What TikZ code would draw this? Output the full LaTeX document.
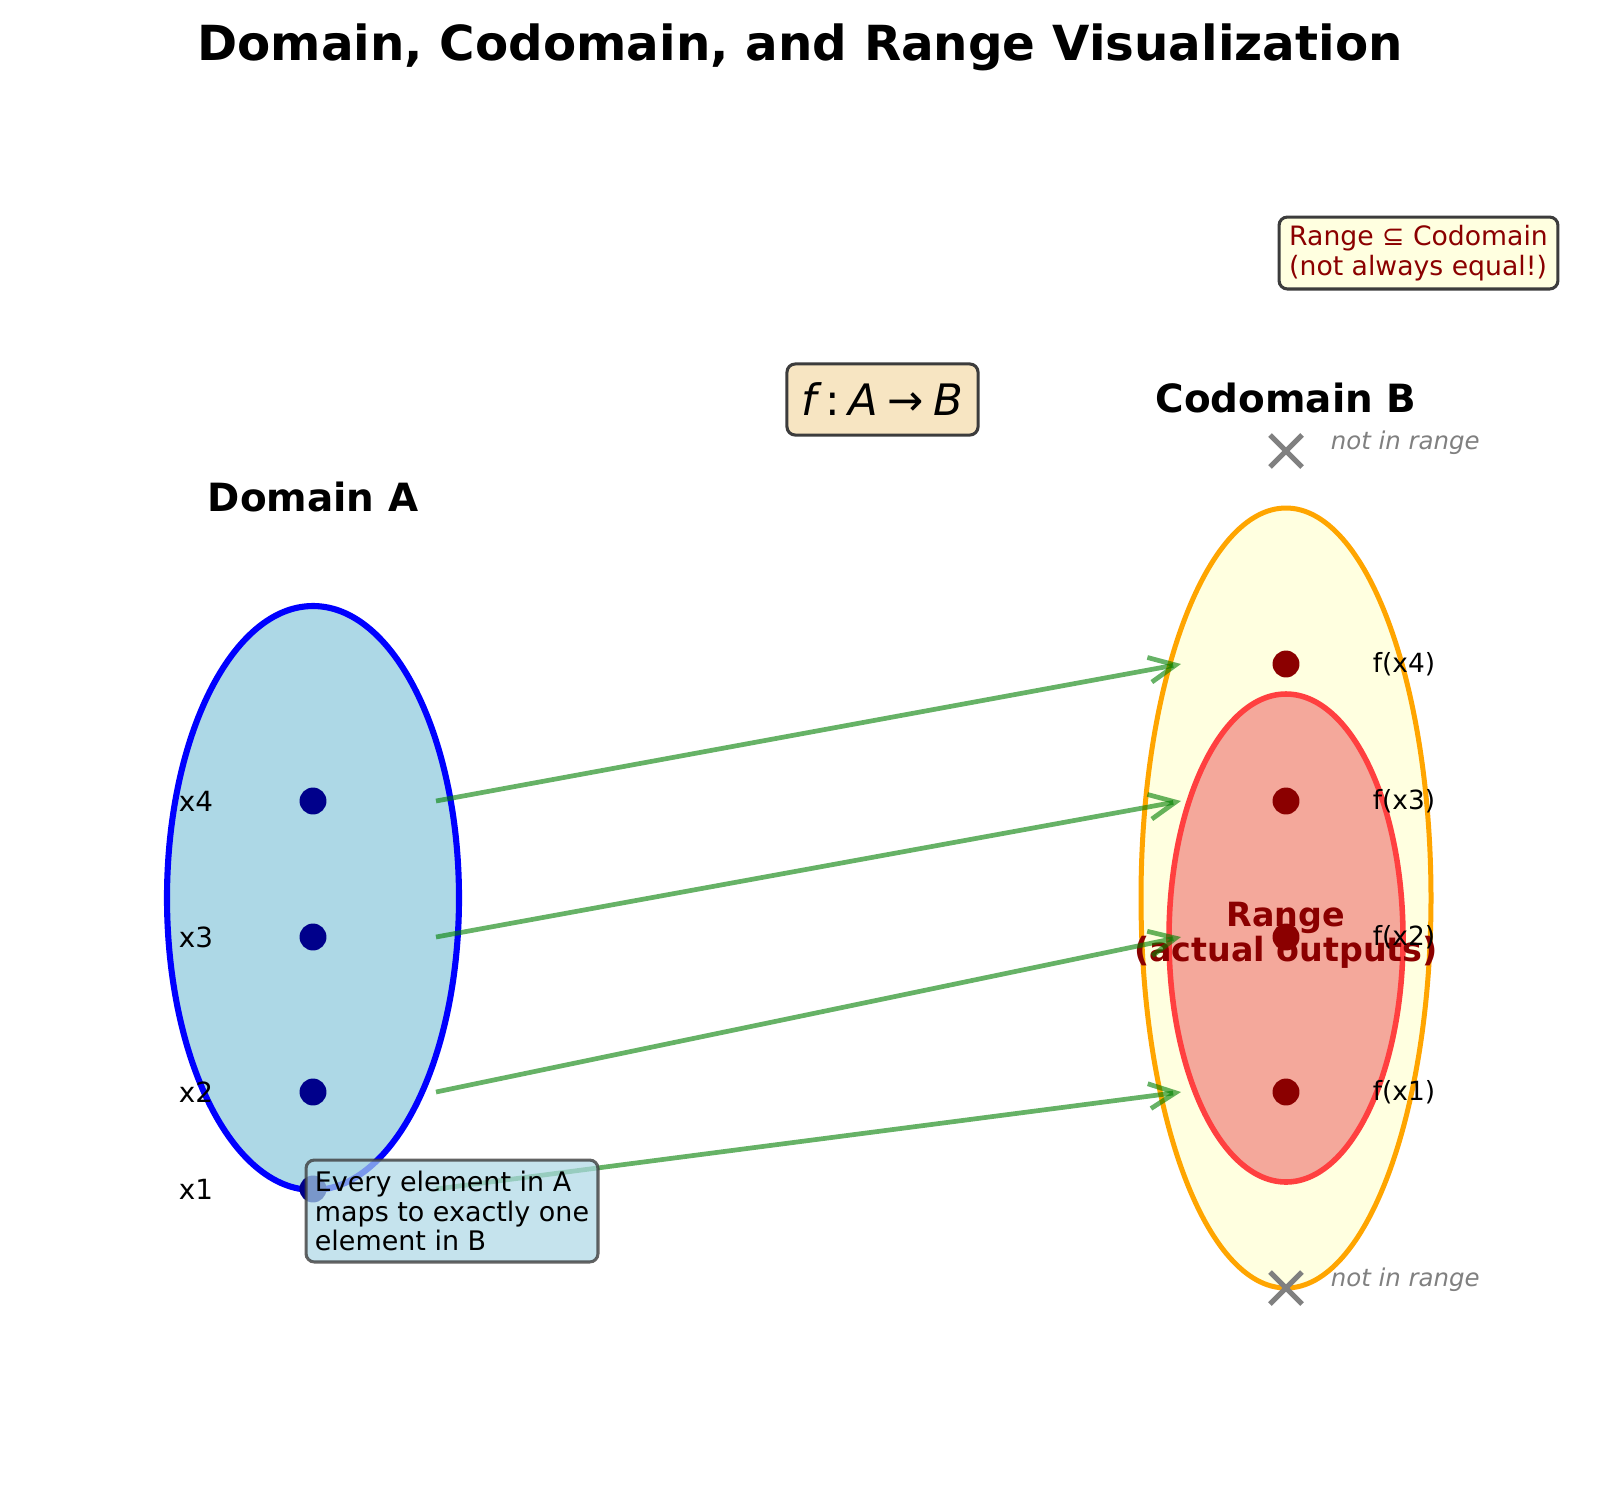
\documentclass[tikz,border=0pt]{standalone}
\usepackage{fontspec}
\setmainfont{DejaVu Sans}
\usetikzlibrary{arrows.meta}
\definecolor{mplgreen}{RGB}{0,128,0}
\definecolor{lightblueA}{RGB}{173,216,230}
\definecolor{navyA}{RGB}{0,0,139}
\definecolor{darkredA}{RGB}{139,0,0}
\definecolor{orangeA}{RGB}{255,165,0}
\definecolor{lightyellowA}{RGB}{255,255,224}
\definecolor{rangefill}{RGB}{244,168,155}
\definecolor{rangeedge}{RGB}{255,64,64}
\definecolor{wheatA}{RGB}{245,222,179}
\definecolor{grayA}{RGB}{128,128,128}
\definecolor{edgegray}{RGB}{60,60,60}
\tikzset{
  ttl/.style={font=\bfseries\fontsize{17.4}{21}\selectfont, anchor=base},
  hdr/.style={font=\bfseries\fontsize{14}{17}\selectfont, anchor=base},
  lbl/.style={font=\fontsize{10}{12}\selectfont},
  flbl/.style={font=\fontsize{9.5}{12}\selectfont, anchor=west},
  nir/.style={font=\itshape\fontsize{8.8}{11}\selectfont, text=grayA, anchor=west},
  ddot/.style={circle, fill=navyA, minimum size=9.7pt, inner sep=0pt},
  cdot/.style={circle, fill=darkredA, minimum size=9.7pt, inner sep=0pt},
  maparrow/.style={draw=mplgreen, draw opacity=0.6, line width=1.7pt,
     -{Straight Barb[length=9.5pt,width=9pt,line width=1.7pt]}},
  xmark/.style={draw=grayA, line width=1.8pt},
  infobox/.style={draw=edgegray, line width=1.1pt, rounded corners=3pt, inner sep=0pt}
}
\begin{document}
\begin{tikzpicture}[x=0.36pt,y=-0.36pt]
\useasboundingbox (0,0) rectangle (1600,1504);
\fill[white] (0,0) rectangle (1600,1504);

% title
\node[ttl] (title) at (800,60) {Domain, Codomain, and Range Visualization};

% sets
\draw[fill=lightblueA, draw=blue, line width=2.2pt] (313,898) ellipse [x radius=146, y radius=292];
\draw[fill=lightyellowA, draw=orangeA, line width=1.8pt] (1286,898) ellipse [x radius=145, y radius=390];
\draw[fill=rangefill, draw=rangeedge, line width=2pt] (1286,938) ellipse [x radius=117, y radius=244];

\node[hdr] (domA) at (313,511) {Domain A};
\node[hdr] (codB) at (1286,412) {Codomain B};

% range text
\node[font=\bfseries\fontsize{12}{12.6}\selectfont, text=darkredA, align=center] (rng) at (1286,935) {Range\\(actual outputs)};

% domain points
\node[ddot] (d4) at (313,801) {};
\node[ddot] (d3) at (313,937) {};
\node[ddot] (d2) at (313,1092) {};
\node[ddot] (d1) at (313,1189) {};
\node[lbl] (lx4) at (196,801) {x4};
\node[lbl] (lx3) at (196,937) {x3};
\node[lbl] (lx2) at (196,1092) {x2};
\node[lbl] (lx1) at (196,1189) {x1};

% codomain points
\node[cdot] (c4) at (1286,664) {};
\node[cdot] (c3) at (1286,801) {};
\node[cdot] (c2) at (1286,937) {};
\node[cdot] (c1) at (1286,1092) {};
\node[flbl] (lf4) at (1363,664) {f(x4)};
\node[flbl] (lf3) at (1363,801) {f(x3)};
\node[flbl] (lf2) at (1363,937) {f(x2)};
\node[flbl] (lf1) at (1363,1092) {f(x1)};

% arrows
\coordinate (s4) at (436,801);
\coordinate (s3) at (436,937);
\coordinate (s2) at (436,1092);
\coordinate (s1) at (436,1189);
\coordinate (e4) at (1181,664);
\coordinate (e3) at (1181,801);
\coordinate (e2) at (1181,937);
\coordinate (e1) at (1181,1092);
\draw[maparrow] (s4) -- (e4);
\draw[maparrow] (s3) -- (e3);
\draw[maparrow] (s2) -- (e2);
\draw[maparrow] (s1) -- (e1);

% not in range markers
\coordinate (nx1) at (1286,451);
\coordinate (nx2) at (1286,1288);
\draw[xmark] ([shift={(-16,-16)}]nx1) -- ([shift={(16,16)}]nx1);
\draw[xmark] ([shift={(-16,16)}]nx1) -- ([shift={(16,-16)}]nx1);
\draw[xmark] ([shift={(-16,-16)}]nx2) -- ([shift={(16,16)}]nx2);
\draw[xmark] ([shift={(-16,16)}]nx2) -- ([shift={(16,-16)}]nx2);
\node[nir] (nir1) at (1321,443) {not in range};
\node[nir] (nir2) at (1321,1280) {not in range};

% f: A -> B box
\node[infobox, fill=wheatA!80!white, minimum width=68.8pt, minimum height=25.6pt,
      font=\fontsize{15.6}{18}\selectfont] (fmap) at (882.5,399.5)
      {\itshape f\hspace{0.2em}\upshape:\hspace{0.2em}\itshape A\hspace{0.22em}\upshape→\hspace{0.22em}\itshape B};

% Range subset Codomain box
\node[infobox, fill=lightyellowA, minimum width=100.4pt, minimum height=25.9pt, align=left,
      text=darkredA, font=\fontsize{9.6}{10.8}\selectfont] (sub) at (1418.5,253)
      {Range ⊆ Codomain\\(not always equal!)};

% note box
\node[infobox, draw opacity=0.8, fill=lightblueA, fill opacity=0.7, text opacity=1,
      minimum width=105.1pt, minimum height=36.7pt, align=left,
      font=\fontsize{9.7}{10.6}\selectfont] (note) at (452,1211)
      {Every element in A\\maps to exactly one\\element in B};
\end{tikzpicture}
\end{document}
